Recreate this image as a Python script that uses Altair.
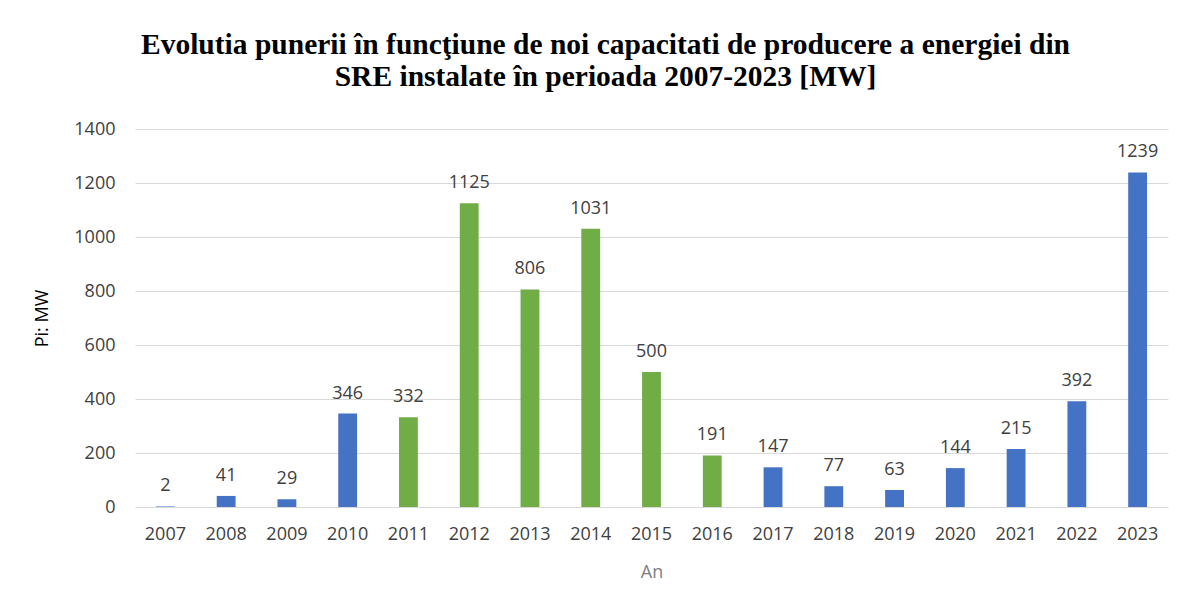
import altair as alt
import pandas as pd

years = [str(y) for y in range(2007, 2024)]
values = [2, 41, 29, 346, 332, 1125, 806, 1031, 500, 191, 147, 77, 63, 144, 215, 392, 1239]
groups = ["a", "a", "a", "a", "b", "b", "b", "b", "b", "b", "a", "a", "a", "a", "a", "a", "a"]
y_ticks = [0, 200, 400, 600, 800, 1000, 1200, 1400]

df = pd.DataFrame({"An": years, "MW": values, "grp": groups})

base = alt.Chart(df)

bars = base.mark_bar().encode(
    x=alt.X("An:N", sort=years,
            scale=alt.Scale(paddingInner=0.69, paddingOuter=0.345),
            axis=alt.Axis(title="An", labelAngle=0, labelFont="Open Sans", labelFontSize=18,
                          labelColor="#404040", labelPadding=18, ticks=False, tickSize=0,
                          domain=False, titleFont="Open Sans", titleFontSize=18,
                          titleFontWeight="normal", titleColor="#7f7f7f",
                          titleX=516.5, titleY=65, titleBaseline="middle")),
    y=alt.Y("MW:Q", scale=alt.Scale(domain=[0, 1400], nice=False),
            axis=alt.Axis(title="Pi: MW", values=y_ticks, format="d", labelFont="Open Sans",
                          labelFontSize=18, labelColor="#404040", labelPadding=20, ticks=False,
                          tickSize=0, domain=False, grid=True, gridColor="#d9d9d9", gridWidth=1,
                          titleFont="Open Sans", titleFontSize=18, titleFontWeight="normal",
                          titleColor="#000000", titleAngle=-90, titleX=-93, titleY=189,
                          titleAlign="center", titleBaseline="middle")),
    color=alt.Color("grp:N", scale=alt.Scale(domain=["a", "b"], range=["#4472C4", "#70AD47"]),
                    legend=None),
)

labels = base.mark_text(baseline="alphabetic", dy=-15, font="Open Sans", fontSize=18,
                        color="#404040").encode(
    x=alt.X("An:N", sort=years),
    y=alt.Y("MW:Q"),
    text=alt.Text("MW:Q"),
)

chart = (bars + labels).properties(
    width=1033,
    height=378,
    background="white",
    autosize=alt.AutoSizeParams(type="none"),
    padding={"left": 127, "top": 121, "right": 12, "bottom": 97},
    title=alt.TitleParams(
        text=["Evolutia punerii în funcţiune de noi capacitati  de producere a energiei din",
              "SRE instalate în perioada 2007-2023 [MW]"],
        font="Liberation Serif", fontSize=29.5, fontWeight="bold", color="#000000",
        anchor="middle", lineHeight=32, offset=28, dx=-46,
    ),
).configure_view(stroke=None)

chart.save("out.html", embed_options={"renderer": "svg", "actions": False})
